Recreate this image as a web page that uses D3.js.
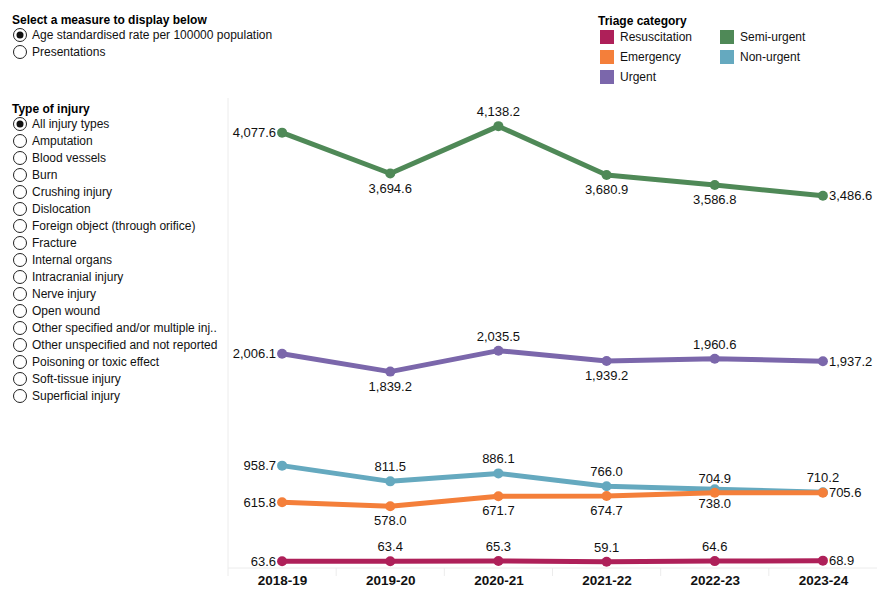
<!DOCTYPE html>
<html>
<head>
<meta charset="utf-8">
<script src="https://cdn.jsdelivr.net/npm/d3@7"></script>
<style>
  body { margin: 0; background: #fff; }
  svg { font-family: "Liberation Sans", Arial, sans-serif; }
</style>
</head>
<body>
<svg id="chart" width="890" height="600"></svg>
<script>
const years = ["2018-19", "2019-20", "2020-21", "2021-22", "2022-23", "2023-24"];

const resuscitation = [63.6, 63.4, 65.3, 59.1, 64.6, 68.9];
const emergency = [615.8, 578.0, 671.7, 674.7, 704.9, 705.6];
const urgent = [2006.1, 1839.2, 2035.5, 1939.2, 1960.6, 1937.2];
const semiUrgent = [4077.6, 3694.6, 4138.2, 3680.9, 3586.8, 3486.6];
const nonUrgent = [958.7, 811.5, 886.1, 766.0, 738.0, 710.2];

const measures = ["Age standardised rate per 100000 population", "Presentations"];
const injuryTypes = ["All injury types", "Amputation", "Blood vessels", "Burn", "Crushing injury",
    "Dislocation", "Foreign object (through orifice)", "Fracture", "Internal organs",
    "Intracranial injury", "Nerve injury", "Open wound", "Other specified and/or multiple inj..",
    "Other unspecified and not reported", "Poisoning or toxic effect", "Soft-tissue injury",
    "Superficial injury"];

// which side each value label sits on
const labelSides = {
    "Non-urgent": ["left", "above", "above", "above", "below", "above"],
    "Emergency": ["left", "below", "below", "below", "above", "right"],
    "Urgent": ["left", "below", "above", "below", "above", "right"],
    "Semi-urgent": ["left", "below", "above", "below", "below", "right"],
    "Resuscitation": ["left", "above", "above", "above", "above", "right"]
};

const series = [
    {name: "Non-urgent", values: nonUrgent, color: "#65a9bf"},
    {name: "Emergency", values: emergency, color: "#f47f3a"},
    {name: "Urgent", values: urgent, color: "#7b67ab"},
    {name: "Semi-urgent", values: semiUrgent, color: "#4f8957"},
    {name: "Resuscitation", values: resuscitation, color: "#ae2059"}
];
const legendOrder = ["Resuscitation", "Emergency", "Urgent", "Semi-urgent", "Non-urgent"];

const svg = d3.select("#chart");

function radioList(g, title, items, x, y0, step) {
    g.append("text")
        .attr("x", x).attr("y", y0)
        .attr("font-size", 12).attr("font-weight", "bold")
        .text(title);
    items.forEach((t, i) => {
        const cy = y0 + 11 + i * step;
        g.append("circle").attr("cx", x + 8).attr("cy", cy).attr("r", 6.5)
            .attr("fill", "#fff").attr("stroke", "#222").attr("stroke-width", 1);
        if (i === 0) {
            g.append("circle").attr("cx", x + 8).attr("cy", cy).attr("r", 3.5).attr("fill", "#111");
        }
        g.append("text").attr("x", x + 20).attr("y", cy + 4)
            .attr("font-size", 12).attr("fill", "#111").text(t);
    });
}

radioList(svg.append("g"), "Select a measure to display below", measures, 12, 24, 17);
radioList(svg.append("g"), "Type of injury", injuryTypes, 12, 113, 17);

// legend
const lg = svg.append("g");
lg.append("text").attr("x", 598).attr("y", 25)
    .attr("font-size", 12).attr("font-weight", "bold").text("Triage category");
legendOrder.forEach((name, i) => {
    const s = series.find(d => d.name === name);
    const col = i < 3 ? 0 : 1;
    const row = i < 3 ? i : i - 3;
    const x = 600 + col * 120;
    const y = 30 + row * 20;
    lg.append("rect").attr("x", x).attr("y", y).attr("width", 14).attr("height", 14).attr("fill", s.color);
    lg.append("text").attr("x", x + 20).attr("y", y + 11).attr("font-size", 12).attr("fill", "#111").text(name);
});

const area = {left: 228, right: 877, top: 95, bottom: 568};

const scX = d3.scalePoint().domain(years).range([area.left, area.right]).padding(0.5);
const scY = d3.scaleLinear().domain([0, 4430]).range([area.bottom, area.top]);
const step = scX.step();

// frame lines
svg.append("line").attr("x1", area.left).attr("x2", area.left)
    .attr("y1", 98).attr("y2", area.bottom + 8).attr("stroke", "#ececec");
svg.append("line").attr("x1", area.left).attr("x2", area.right)
    .attr("y1", area.bottom).attr("y2", area.bottom).attr("stroke", "#ececec");
years.slice(1).forEach(y => {
    svg.append("line").attr("x1", scX(y) - step / 2).attr("x2", scX(y) - step / 2)
        .attr("y1", area.bottom).attr("y2", area.bottom + 8).attr("stroke", "#ececec");
});

const axisX = d3.axisBottom(scX).tickSize(0).tickPadding(7);
const gx = svg.append("g").attr("transform", `translate(0, ${area.bottom})`).call(axisX);
gx.select(".domain").remove();
gx.selectAll("text").attr("font-size", 13.5).attr("font-weight", "bold")
    .attr("fill", "#111").attr("font-family", "Liberation Sans, Arial, sans-serif");

const line = d3.line().x((d, i) => scX(years[i])).y(d => scY(d));
const fmt = d3.format(",.1f");

series.forEach(s => {
    const g = svg.append("g");
    g.append("path").datum(s.values)
        .attr("d", line)
        .attr("fill", "none")
        .attr("stroke", s.color)
        .attr("stroke-width", 5)
        .attr("stroke-linejoin", "round");
    g.selectAll("circle").data(s.values).enter().append("circle")
        .attr("cx", (d, i) => scX(years[i]))
        .attr("cy", d => scY(d))
        .attr("r", 5)
        .attr("fill", s.color);
});

// value labels on top of all lines
series.forEach(s => {
    const sides = labelSides[s.name];
    svg.append("g").selectAll("text").data(s.values).enter().append("text")
        .attr("font-size", 13)
        .attr("fill", "#111")
        .attr("x", (d, i) => {
            const x = scX(years[i]);
            if (sides[i] === "left") return x - 6;
            if (sides[i] === "right") return x + 6;
            return x;
        })
        .attr("y", (d, i) => {
            const y = scY(d);
            if (sides[i] === "above") return y - 10;
            if (sides[i] === "below") return y + 19;
            return y + 4.5;
        })
        .attr("text-anchor", (d, i) => sides[i] === "left" ? "end" : sides[i] === "right" ? "start" : "middle")
        .text(d => fmt(d));
});
</script>
</body>
</html>
